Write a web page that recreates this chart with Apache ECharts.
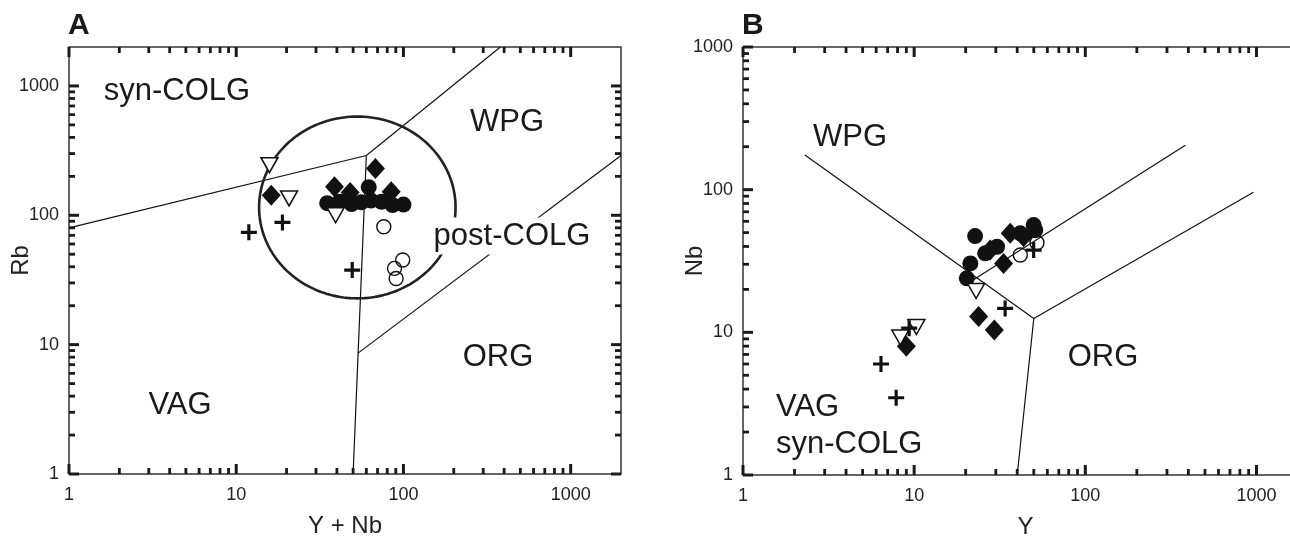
<!DOCTYPE html>
<html><head><meta charset="utf-8">
<script src="https://cdn.jsdelivr.net/npm/echarts@6/dist/echarts.min.js"></script>
<style>html,body{margin:0;padding:0;background:#fff}#c{width:1290px;height:540px}</style>
</head><body><div id="c"></div>
<script>
// ---------- Panel A : Rb vs (Y + Nb) ----------
const aTriangleX = [15.8, 20.7, 39.3];
const aTriangleY = [244, 135, 100];
const aDiamondX = [16.2, 68, 38.7, 84.5, 48];
const aDiamondY = [143, 230, 166, 152, 150];
const aDotX = [35, 41.5, 49, 56, 64, 74, 86, 100, 62];
const aDotY = [124, 127, 122, 126, 130, 127, 120, 121, 165];
const aPlusX = [11.9, 18.9, 49.4];
const aPlusY = [73.8, 88, 37.7];
const aRingX = [76.3, 99, 88.4, 90.4];
const aRingY = [81.5, 45.1, 38.9, 32.5];
// field boundaries (Y+Nb, Rb)
const aBoundSynVag = [[1, 80], [60, 290]];
const aBoundSynWpg = [[60, 290], [380, 2000]];
const aBoundVagOrg = [[60, 290], [50, 1]];
const aBoundWpgOrg = [[53.5, 8.6], [2000, 290]];
// post-COLG field: centre, x-extreme, y-extreme
const aPostColg = [[53, 115, 205, 580]];

// ---------- Panel B : Nb vs Y ----------
const bTriangleX = [23, 10.3, 8.3];
const bTriangleY = [19.5, 10.9, 9.2];
const bDiamondX = [23.8, 29.4, 9, 33.3, 36.4, 27.8, 43.6];
const bDiamondY = [12.9, 10.4, 8, 30.4, 49.4, 37.7, 46.8];
const bDotX = [22.7, 21.3, 20.3, 26, 30.5, 41.7, 49.9, 51];
const bDotY = [47.3, 30.4, 23.9, 35.8, 39.8, 49.4, 56.5, 52];
const bPlusX = [34, 9.35, 6.4, 7.85, 49.9];
const bPlusY = [14.7, 10.7, 6.0, 3.48, 37.7];
const bRingX = [41.7, 52.2];
const bRingY = [34.8, 42.5];
const bBoundVagWpg = [[2.3, 175], [50, 12.5]];
const bBoundWpgOrg = [[50, 12.5], [960, 96]];
const bBoundVagOrg = [[50, 12.5], [40, 1]];
const bBoundUpper = [[22.1, 23.3], [384, 205]];

// ---------- axes ----------
const majorTicks = [1, 10, 100, 1000];
const minorSteps = [2, 3, 4, 5, 6, 7, 8, 9];
const aXMax = 2000, aYMax = 2000, bXMax = 2000, bYMax = 1000;

const pairs = (xs, ys) => xs.map((x, i) => [x, ys[i]]);
const FONT = 'Liberation Sans, Arial, Helvetica, sans-serif';
const INK = '#111';

function tickData(xMax, yMax) {
  const out = [];
  const add = (max, dir) => {
    majorTicks.forEach(d => {
      if (d <= max) out.push([d, 2, dir]);
      minorSteps.forEach(m => { if (m * d < max) out.push([m * d, 1, dir]); });
    });
  };
  add(xMax, 1); add(yMax, 2);
  return out;
}
function tickSeries(gi, xMax, yMax) {
  return {
    type: 'custom', xAxisIndex: gi, yAxisIndex: gi, silent: true, z: 5,
    data: tickData(xMax, yMax),
    renderItem: function (params, api) {
      const v = api.value(0), major = api.value(1) === 2, isX = api.value(2) === 1;
      const len = major ? 10 : 6, lw = major ? 3 : 2.8;
      const st = { stroke: '#1a1a1a', lineWidth: lw };
      if (isX) {
        const b = api.coord([v, 1]), t = api.coord([v, yMax]);
        return { type: 'group', children: [
          { type: 'line', shape: { x1: b[0], y1: b[1], x2: b[0], y2: b[1] - len }, style: st },
          { type: 'line', shape: { x1: t[0], y1: t[1], x2: t[0], y2: t[1] + len }, style: st }] };
      }
      const l = api.coord([1, v]), r = api.coord([xMax, v]);
      return { type: 'group', children: [
        { type: 'line', shape: { x1: l[0], y1: l[1], x2: l[0] + len, y2: l[1] }, style: st },
        { type: 'line', shape: { x1: r[0], y1: r[1], x2: r[0] - len, y2: r[1] }, style: st }] };
    }
  };
}
function lineSeries(gi, data) {
  return { type: 'line', xAxisIndex: gi, yAxisIndex: gi, data: data, symbol: 'none', silent: true, z: 3,
    lineStyle: { color: INK, width: 1.2 } };
}
const PLUS = 'path://M4,0 H6 V4 H10 V6 H6 V10 H4 V6 H0 V4 H4 Z';
function pointSeries(gi, tri, dia, dot, ring, plus) {
  return [
    { type: 'scatter', xAxisIndex: gi, yAxisIndex: gi, data: dia, symbol: 'diamond', symbolSize: [19, 21], z: 10,
      itemStyle: { color: INK, opacity: 1 } },
    { type: 'scatter', xAxisIndex: gi, yAxisIndex: gi, data: dot, symbol: 'circle', symbolSize: 16, z: 11,
      itemStyle: { color: INK, opacity: 1 } },
    { type: 'scatter', xAxisIndex: gi, yAxisIndex: gi, data: tri, symbol: 'triangle', symbolRotate: 180, symbolSize: [17, 15], z: 12,
      itemStyle: { color: '#fff', borderColor: INK, borderWidth: 1.5, opacity: 1 } },
    { type: 'scatter', xAxisIndex: gi, yAxisIndex: gi, data: ring, symbol: 'circle', symbolSize: 14, z: 13,
      itemStyle: { color: 'rgba(0,0,0,0)', borderColor: INK, borderWidth: 1.4, opacity: 1 } },
    { type: 'scatter', xAxisIndex: gi, yAxisIndex: gi, data: plus, symbol: PLUS, symbolSize: 16, z: 14,
      itemStyle: { color: INK, opacity: 1 } }
  ];
}
function xAxis(gi, max, name) {
  return { type: 'log', logBase: 10, gridIndex: gi, min: 1, max: max, name: name, nameLocation: 'middle', nameGap: 40,
    nameMoveOverlap: false,
    nameTextStyle: { fontSize: 24, color: '#222', fontFamily: FONT },
    axisLine: { show: false }, axisTick: { show: false }, splitLine: { show: false },
    axisLabel: { fontSize: 18, color: '#222', fontFamily: FONT, margin: 12, showMaxLabel: false,
      formatter: v => majorTicks.indexOf(Math.round(v)) >= 0 ? String(Math.round(v)) : '' } };
}
function yAxis(gi, max, name) {
  return { type: 'log', logBase: 10, gridIndex: gi, min: 1, max: max, name: name, nameLocation: 'middle', nameGap: 36,
    nameMoveOverlap: false,
    nameTextStyle: { fontSize: 24, color: '#222', fontFamily: FONT },
    axisLine: { show: false }, axisTick: { show: false }, splitLine: { show: false },
    axisLabel: { fontSize: 18, color: '#222', fontFamily: FONT, margin: 10, showMaxLabel: max === 1000,
      formatter: v => majorTicks.indexOf(Math.round(v)) >= 0 ? String(Math.round(v)) : '' } };
}
function label(text, x, y, opts) {
  return Object.assign({ type: 'text', x: x, y: y, z: 50,
    style: { text: text, font: '31px ' + FONT, fill: '#1a1a1a', align: 'center', verticalAlign: 'middle' } }, opts || {});
}

const chart = echarts.init(document.getElementById('c'));
chart.setOption({
  animation: false,
  backgroundColor: '#fff',
  grid: [
    { left: 69, top: 47, width: 552, height: 427, show: true, borderColor: '#333', borderWidth: 1.5, backgroundColor: 'transparent', outerBoundsMode: 'none', containLabel: false },
    { left: 743, top: 47, width: 565, height: 428, show: true, borderColor: '#333', borderWidth: 1.5, backgroundColor: 'transparent', outerBoundsMode: 'none', containLabel: false }
  ],
  xAxis: [xAxis(0, aXMax, 'Y + Nb'), xAxis(1, bXMax, 'Y')],
  yAxis: [yAxis(0, aYMax, 'Rb'), yAxis(1, bYMax, 'Nb')],
  series: [
    tickSeries(0, aXMax, aYMax),
    tickSeries(1, bXMax, bYMax),
    lineSeries(0, aBoundSynVag), lineSeries(0, aBoundSynWpg), lineSeries(0, aBoundVagOrg), lineSeries(0, aBoundWpgOrg),
    lineSeries(1, bBoundVagWpg), lineSeries(1, bBoundWpgOrg), lineSeries(1, bBoundVagOrg), lineSeries(1, bBoundUpper),
    { type: 'custom', xAxisIndex: 0, yAxisIndex: 0, silent: true, z: 4, data: aPostColg,
      renderItem: function (params, api) {
        const c = api.coord([api.value(0), api.value(1)]);
        const e = api.coord([api.value(2), api.value(1)]);
        const t = api.coord([api.value(0), api.value(3)]);
        const rx = e[0] - c[0], ry = c[1] - t[1];
        const pts = [];
        for (let k = 0; k <= 180; k++) { const a = k / 180 * Math.PI * 2; pts.push([c[0] + rx * Math.cos(a), c[1] + ry * Math.sin(a)]); }
        return { type: 'polyline', shape: { points: pts }, style: { stroke: '#222', lineWidth: 2.6, fill: null } };
      } },
    ...pointSeries(0, pairs(aTriangleX, aTriangleY), pairs(aDiamondX, aDiamondY), pairs(aDotX, aDotY), pairs(aRingX, aRingY), pairs(aPlusX, aPlusY)),
    ...pointSeries(1, pairs(bTriangleX, bTriangleY), pairs(bDiamondX, bDiamondY), pairs(bDotX, bDotY), pairs(bRingX, bRingY), pairs(bPlusX, bPlusY))
  ],
  graphic: [
    { type: 'text', x: 68, y: 26, z: 50, style: { text: 'A', font: 'bold 30px ' + FONT, fill: '#1a1a1a', verticalAlign: 'middle' } },
    { type: 'text', x: 742, y: 26, z: 50, style: { text: 'B', font: 'bold 30px ' + FONT, fill: '#1a1a1a', verticalAlign: 'middle' } },
    label('syn-COLG', 177, 91),
    label('WPG', 507, 122),
    { type: 'text', x: 512, y: 236, z: 50, style: { text: 'post-COLG', font: '31px ' + FONT, fill: '#1a1a1a', align: 'center', verticalAlign: 'middle', backgroundColor: '#fff', padding: [3, 3] } },
    label('ORG', 498, 357),
    label('VAG', 180, 405),
    label('WPG', 850, 137),
    label('ORG', 1103, 357),
    { type: 'text', x: 776, y: 407, z: 50, style: { text: 'VAG', font: '31px ' + FONT, fill: '#1a1a1a', align: 'left', verticalAlign: 'middle' } },
    { type: 'text', x: 776, y: 444, z: 50, style: { text: 'syn-COLG', font: '31px ' + FONT, fill: '#1a1a1a', align: 'left', verticalAlign: 'middle' } }
  ]
});
</script></body></html>
